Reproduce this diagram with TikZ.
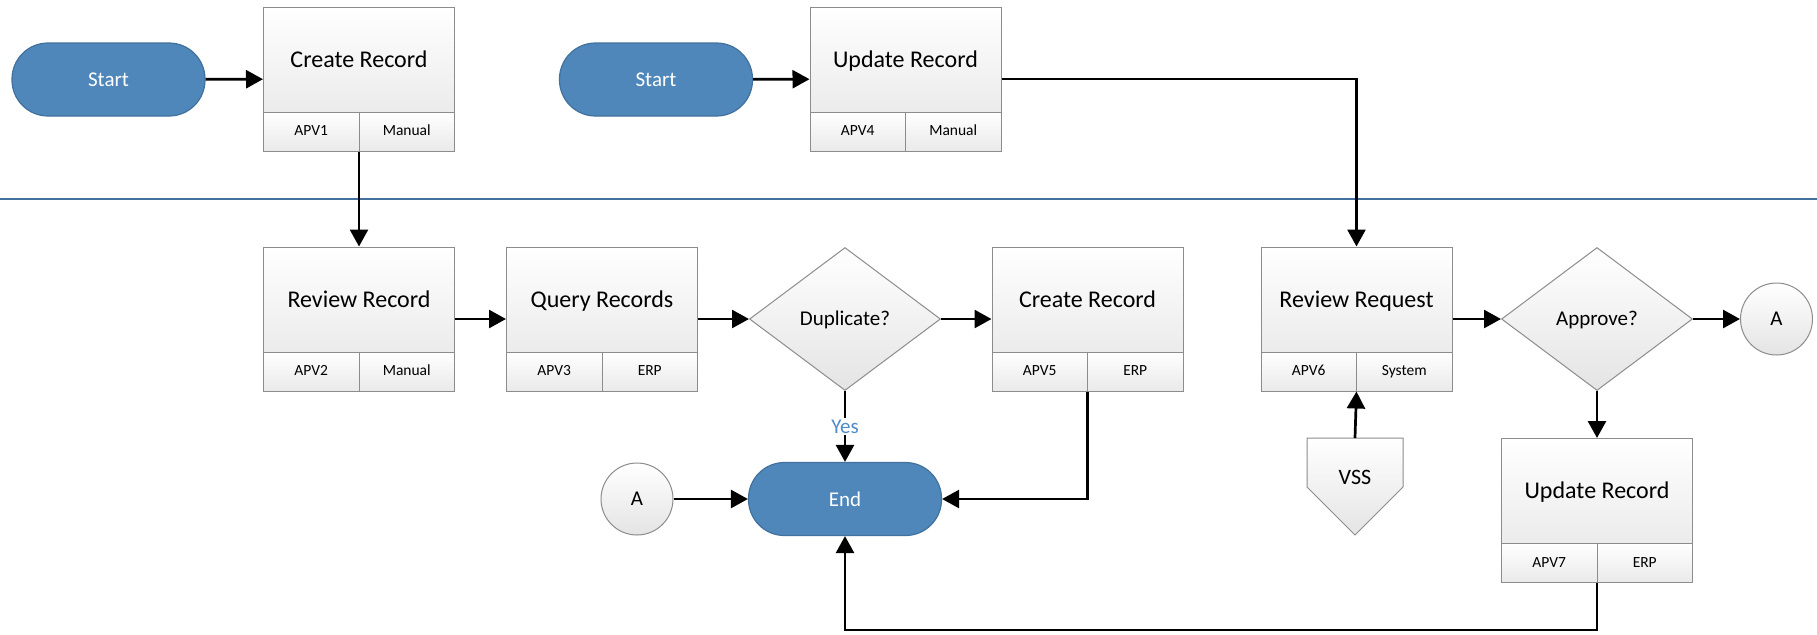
\documentclass[tikz,border=0pt]{standalone}
\usepackage{fontspec}
\setmainfont{Carlito}
\usetikzlibrary{arrows.meta,shapes.geometric,positioning}

\definecolor{boxline}{HTML}{8C8C8C}
\definecolor{shadebot}{HTML}{E4E4E4}
\definecolor{termfill}{HTML}{4F87BA}
\definecolor{termline}{HTML}{41719C}
\definecolor{yesblue}{HTML}{4E8CC8}

\tikzset{
  procbox/.style={rectangle, draw=boxline, line width=0.5pt, top color=white, bottom color=shadebot,
    minimum width=95.5pt, minimum height=72pt, inner sep=0pt},
  titletext/.style={inner sep=0pt, anchor=base, font=\fontsize{12}{14}\selectfont},
  cellbox/.style={rectangle, draw=boxline, line width=0.5pt, top color=white, bottom color=shadebot!80,
    minimum width=47.75pt, minimum height=19.5pt, inner sep=0pt, text height=5.6pt, text depth=1.4pt,
    font=\fontsize{7.75}{9}\selectfont},
  termbox/.style={rectangle, rounded corners=18pt, draw=termline, line width=0.6pt, fill=termfill,
    text=white, minimum width=96.5pt, minimum height=36.5pt, font=\fontsize{10.5}{12}\selectfont},
  decbox/.style={diamond, draw=boxline, line width=0.5pt, top color=white, bottom color=shadebot,
    minimum width=95.5pt, minimum height=71.5pt, inner sep=0pt, text height=8.5pt, text depth=2pt,
    font=\fontsize{10.5}{12}\selectfont},
  linkbox/.style={circle, draw=boxline, line width=0.5pt, top color=white, bottom color=shadebot,
    minimum size=36pt, inner sep=0pt, font=\fontsize{10.5}{12}\selectfont},
  flow/.style={line width=1.35pt, -{Triangle[length=8.5pt,width=9pt]}},
  sepline/.style={draw=termline, line width=0.6pt}
}

\begin{document}
\begin{tikzpicture}[x=0.5pt,y=-0.5pt]
\useasboundingbox (0,0) rectangle (1817,634);

%draw lane divider
\draw[sepline] (0,199) -- (1817,199);

%draw process boxes
\foreach \nm/\x/\y/\ttl/\cd/\kd in {cr1/359/79/Create Record/APV1/Manual,
  ur1/905.5/79/Update Record/APV4/Manual,
  rr/359/319/Review Record/APV2/Manual,
  qr/602/319/Query Records/APV3/ERP,
  cr2/1087.5/319/Create Record/APV5/ERP,
  rq/1356.5/319/Review Request/APV6/System,
  ur2/1597/510.5/Update Record/APV7/ERP}
{
\node[procbox] (\nm) at (\x,\y) {};
\node[titletext] (\nm-t) at ([yshift=-30.4pt]\nm.north) {\ttl};
\node[cellbox, anchor=south west] (\nm-l) at (\nm.south west) {\cd};
\node[cellbox, anchor=south east] (\nm-r) at (\nm.south east) {\kd};
}

%terminals
\node[termbox] (st1) at (108.5,79.5) {Start};
\node[termbox] (st2) at (656,79.5) {Start};
\node[termbox] (end) at (845,499) {End};

%decisions and links
\node[decbox] (dup) at (845,319) {Duplicate?};
\node[decbox] (apv) at (1597,319) {Approve?};
\node[linkbox] (a1) at (637,499) {A};
\node[linkbox] (a2) at (1776.5,319) {A};

%off page input
\shade[draw=boxline, line width=0.5pt, top color=white, bottom color=shadebot]
  (1307,438) -- (1403,438) -- (1403,487) -- (1355,535) -- (1307,487) -- cycle;
\node[inner sep=0pt, font=\fontsize{11}{13}\selectfont] (vss) at (1355,477) {VSS};
\coordinate (vsstop) at (1355,438);
\coordinate (bot) at (0,630);

%draw connectors
\draw[flow] (st1) -- (cr1);
\draw[flow] (st2) -- (ur1);
\draw[flow] (cr1.south) -- (rr.north);
\draw[flow] (rr) -- (qr);
\draw[flow] (qr) -- (dup);
\draw[flow] (dup) -- (cr2);
\draw[flow] (ur1.east) -| (rq.north);
\draw[flow] (rq) -- (apv);
\draw[flow] (apv) -- (a2);
\draw[flow] (apv) -- (ur2);
\draw[flow] (vsstop) -- (rq.south);
\draw[flow] (dup) -- node[fill=white, inner sep=1pt, text=yesblue, font=\fontsize{10.5}{12}\selectfont] {Yes} (end);
\draw[flow] (a1) -- (end);
\draw[flow] (cr2.south) |- (end.east);
\draw[flow] (ur2.south) -- (ur2.south |- bot) -| (end.south);
\end{tikzpicture}
\end{document}
